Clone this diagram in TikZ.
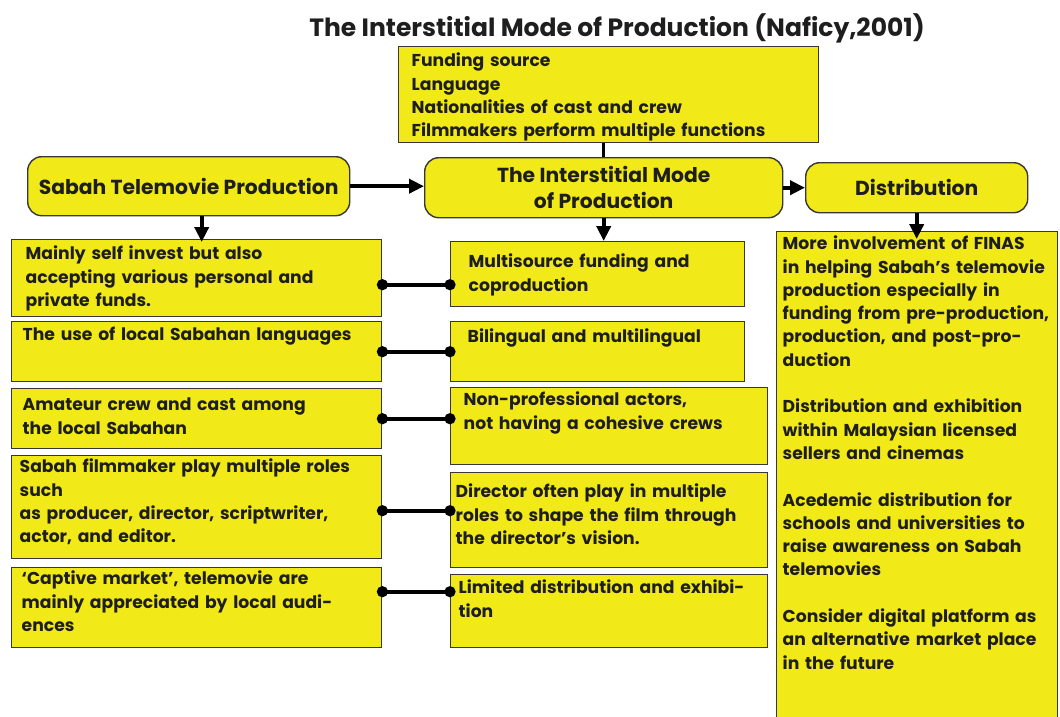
\documentclass[tikz,border=0pt]{standalone}
\usepackage{fontspec}
\setmainfont{Poppins}
\usepackage{xcolor}
\definecolor{boxfill}{RGB}{242, 234, 24}
\definecolor{edge}{RGB}{55, 55, 55}
\definecolor{ink}{RGB}{30, 30, 30}
\usetikzlibrary{arrows.meta}

\tikzset{
	cell/.style = {draw = edge, fill = boxfill, line width = 1.4pt, anchor = north west, align = left, inner ysep = 0pt, text = ink, font = \bfseries\fontsize{17.2}{23.3}\selectfont},
	head/.style = {draw = edge, fill = boxfill, line width = 1.4pt, rounded corners = 14pt, anchor = north west, align = center, inner sep = 0pt, text = ink, font = \bfseries\fontsize{20.3}{26}\selectfont},
	flow/.style = {line width = 3.8pt, ->},
	link/.style = {line width = 3.8pt, {Circle[length=11pt]}-{Circle[length=11pt]}, shorten <= -5.5pt, shorten >= -5.5pt}
}

\begin{document}
\begin{tikzpicture}[x = 1pt, y = -1pt, >={Triangle[length=15pt, width=14pt]}]
	\useasboundingbox (0, 0) rectangle (1060, 717);
	\fill[white] (0, 0) rectangle (1060, 717);

	\node[text = ink, font = \bfseries\fontsize{25}{30}\selectfont] (title) at (617, 28) {The Interstitial Mode of Production (Naficy,2001)};

	\node[cell, text width = 394pt, inner xsep = 13pt, text height = 20pt, text depth = 76pt] (fund) at (398, 46) {Funding source\\Language\\Nationalities of cast and crew\\Filmmakers perform multiple functions};

	\node[head, minimum width = 322pt, minimum height = 59pt] (sabah) at (27, 156) {Sabah Telemovie Production};
	\node[head, minimum width = 358pt, minimum height = 60pt] (imode) at (424, 157) {The Interstitial Mode\\of Production};
	\node[head, minimum width = 222pt, minimum height = 50pt] (distrib) at (805, 162) {Distribution};

	\node[cell, text width = 342pt, inner xsep = 14pt, text height = 20pt, text depth = 57pt] (lfund) at (11, 239) {Mainly self invest but also\\accepting various personal and\\private funds.};
	\node[cell, text width = 348pt, inner xsep = 11pt, text height = 19pt, text depth = 41pt] (llang) at (11, 321) {The use of local Sabahan languages};
	\node[cell, text width = 348pt, inner xsep = 11pt, text height = 22pt, text depth = 38pt] (lcrew) at (11, 388) {Amateur crew and cast among\\the local Sabahan};
	\node[cell, text width = 354pt, inner xsep = 8pt, text height = 17pt, text depth = 86pt] (lroles) at (11, 455) {Sabah filmmaker play multiple roles\\such\\as producer, director, scriptwriter,\\actor, and editor.};
	\node[cell, text width = 350pt, inner xsep = 10pt, text height = 17pt, text depth = 63pt] (lmarket) at (11, 567) {‘Captive market’, telemovie are\\mainly appreciated by local audi-\\ences};

	\node[cell, text width = 258pt, inner xsep = 18pt, text height = 26pt, text depth = 39pt] (mfund) at (450, 241) {Multisource funding and\\coproduction};
	\node[cell, text width = 260pt, inner xsep = 17pt, text height = 21pt, text depth = 39pt] (mlang) at (450, 321) {Bilingual and multilingual};
	\node[cell, text width = 291pt, inner xsep = 13pt, text height = 18pt, text depth = 59pt] (mcrew) at (450, 387) {Non-professional actors,\\not having a cohesive crews};
	\node[cell, text width = 307pt, inner xsep = 5pt, text height = 25pt, text depth = 70pt] (mroles) at (450, 472) {Director often play in multiple\\roles to shape the film through\\the director’s vision.};
	\node[cell, text width = 301pt, inner xsep = 8pt, text height = 19pt, text depth = 54pt] (mmarket) at (450, 574) {Limited distribution and exhibi-\\tion};

	\node[cell, text width = 269pt, inner xsep = 6pt, text height = 18pt, text depth = 472pt] (dnotes) at (776, 231) {More involvement of FINAS\\in helping Sabah’s telemovie\\production especially in\\funding from pre-production,\\production, and post-pro-\\duction\\[23.3pt]Distribution and exhibition\\within Malaysian licensed\\sellers and cinemas\\[23.3pt]Acedemic distribution for\\schools and universities to\\raise awareness on Sabah\\telemovies\\[23.3pt]Consider digital platform as\\an alternative market place\\in the future};

	\draw[line width = 3.2pt] (imode.north) -- (imode.north |- fund.south);
	\draw[flow] (sabah.east) -- (sabah.east -| imode.west);
	\draw[flow] (imode.east) -- (imode.east -| distrib.west);
	\draw[flow, shorten >= -3pt] ([xshift = 13pt]sabah.south) -- ([xshift = 13pt]sabah.south |- lfund.north);
	\draw[flow] (imode.south) -- (imode.south |- mfund.north);
	\draw[flow, shorten >= -8pt] (distrib.south) -- (distrib.south |- dnotes.north);

	\draw[link] ([yshift = -6.5pt]lfund.east) -- ([yshift = -6.5pt]lfund.east -| mfund.west);
	\draw[link] (llang.east) -- (llang.east -| mlang.west);
	\draw[link] (lcrew.east) -- (lcrew.east -| mcrew.west);
	\draw[link] ([yshift = -3.5pt]lroles.east) -- ([yshift = -3.5pt]lroles.east -| mroles.west);
	\draw[link] ([yshift = 16pt]lmarket.east) -- ([yshift = 16pt]lmarket.east -| mmarket.west);
\end{tikzpicture}
\end{document}
